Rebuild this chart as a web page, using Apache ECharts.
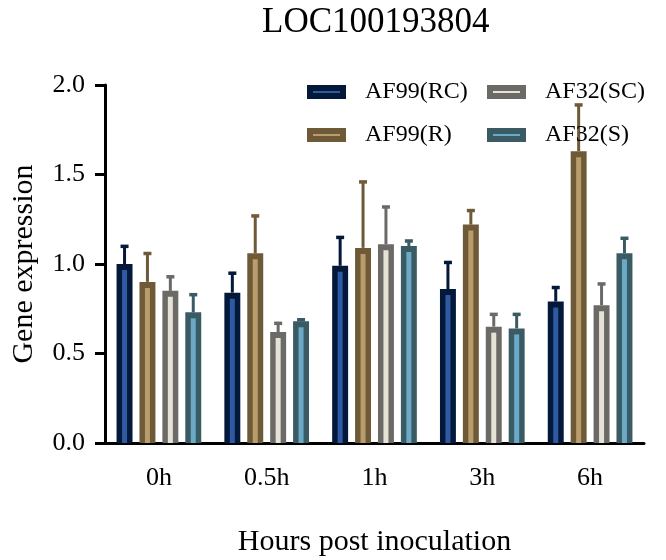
<!DOCTYPE html>
<html>
<head>
<meta charset="utf-8">
<title>LOC100193804</title>
<script src="https://cdn.jsdelivr.net/npm/echarts@6/dist/echarts.min.js"></script>
<style>
  html, body { margin: 0; padding: 0; background: #fff; }
  #main { width: 666px; height: 560px; }
</style>
</head>
<body>
<div id="main"></div>
<script>
// categories and group names
var hours = ['0h', '0.5h', '1h', '3h', '6h']
var groups = ['AF99(RC)', 'AF99(R)', 'AF32(SC)', 'AF32(S)']

// mean expression per group
var rcMean = [1.00, 0.84, 0.99, 0.86, 0.79]
var rMean = [0.90, 1.06, 1.09, 1.22, 1.63]
var scMean = [0.85, 0.62, 1.11, 0.65, 0.77]
var sMean = [0.73, 0.68, 1.10, 0.64, 1.06]

// top of the error bar (mean + sd)
var rcTop = [1.10, 0.95, 1.15, 1.01, 0.87]
var rTop = [1.06, 1.27, 1.46, 1.30, 1.89]
var scTop = [0.93, 0.67, 1.32, 0.72, 0.89]
var sTop = [0.83, 0.69, 1.13, 0.72, 1.145]

var yTicks = [0, 0.5, 1.0, 1.5, 2.0]

var means = [rcMean, rMean, scMean, sMean]
var tops = [rcTop, rTop, scTop, sTop]

// outer / inner colours
var outer = ['#04193a', '#6f5a38', '#6b6a67', '#3a5b64']
var inner = ['#2d5aa2', '#b99d6c', '#e7e2d6', '#6aaac7']

var font = 'Liberation Serif, Times New Roman, serif'

var chart = echarts.init(document.getElementById('main'))

function makeSeries (k) {
  var data = []
  for (var i = 0; i < hours.length; i++) {
    data.push([i, means[k][i], tops[k][i]])
  }
  return {
    type: 'custom',
    name: groups[k],
    data: data,
    encode: { x: 0, y: [1, 2] },
    itemStyle: { color: inner[k], borderColor: outer[k] },
    renderItem: function (params, api) {
      var band = api.size([1, 0])[0]
      var base = api.coord([api.value(0), 0])
      var top = api.coord([api.value(0), api.value(1)])
      var err = api.coord([api.value(0), api.value(2)])
      var w = band * 0.148
      var cx = base[0] + (k - 1.5) * band * 0.2125
      var sw = 5
      return {
        type: 'group',
        children: [
          // error line + cap
          { type: 'rect', shape: { x: cx - 1.5, y: err[1], width: 3, height: top[1] - err[1] }, style: { fill: outer[k] } },
          { type: 'rect', shape: { x: cx - 4, y: err[1] - 1.5, width: 8, height: 3.5 }, style: { fill: outer[k] } },
          // bar
          { type: 'rect', shape: { x: cx - w / 2, y: top[1], width: w, height: base[1] - top[1] }, style: { fill: outer[k] } },
          { type: 'rect', shape: { x: cx - sw / 2, y: top[1] + 6, width: sw, height: Math.max(0, base[1] - top[1] - 6) }, style: { fill: inner[k] } }
        ]
      }
    }
  }
}

function legendItem (k) {
  return { name: groups[k], itemStyle: { color: inner[k], borderColor: outer[k], borderWidth: 6 } }
}

var legendCommon = {
  orient: 'vertical',
  icon: 'rect',
  itemWidth: 33,
  itemHeight: 8,
  itemGap: 19,
  padding: 0,
  selectedMode: false,
  textStyle: { fontFamily: font, fontSize: 24, color: '#000', padding: [0, 0, 0, 17] }
}

chart.setOption({
  animation: false,
  title: {
    text: 'LOC100193804',
    left: 262,
    top: 5,
    padding: 0,
    textStyle: { fontFamily: font, fontSize: 35, fontWeight: 'normal', color: '#000' }
  },
  legend: [
    Object.assign({ left: 307, top: 80, data: [legendItem(0), legendItem(1)] }, legendCommon),
    Object.assign({ left: 487, top: 80, data: [legendItem(2), legendItem(3)] }, legendCommon)
  ],
  grid: { left: 105, right: 22, top: 85, bottom: 117, outerBoundsMode: 'none', containLabel: false },
  xAxis: {
    type: 'category',
    data: hours,
    name: 'Hours post inoculation',
    nameLocation: 'middle',
    nameGap: 84,
    nameTextStyle: { fontFamily: font, fontSize: 30, color: '#000' },
    axisLine: { lineStyle: { color: '#000', width: 3 } },
    axisTick: { alignWithLabel: true, length: 9, lineStyle: { width: 3, color: '#000' } },
    axisLabel: { fontFamily: font, fontSize: 26, color: '#000', margin: 22 }
  },
  yAxis: {
    type: 'value',
    min: yTicks[0],
    max: yTicks[yTicks.length - 1],
    interval: 0.5,
    name: 'Gene expression',
    nameLocation: 'middle',
    nameGap: 66,
    nameTextStyle: { fontFamily: font, fontSize: 30, color: '#000' },
    splitLine: { show: false },
    axisLine: { show: true, lineStyle: { color: '#000', width: 3 } },
    axisTick: { show: true, length: 10, lineStyle: { width: 3, color: '#000' } },
    axisLabel: {
      fontFamily: font, fontSize: 26, color: '#000', margin: 20,
      formatter: function (v) { return v.toFixed(1) }
    }
  },
  series: [makeSeries(0), makeSeries(1), makeSeries(2), makeSeries(3)]
})
</script>
</body>
</html>
